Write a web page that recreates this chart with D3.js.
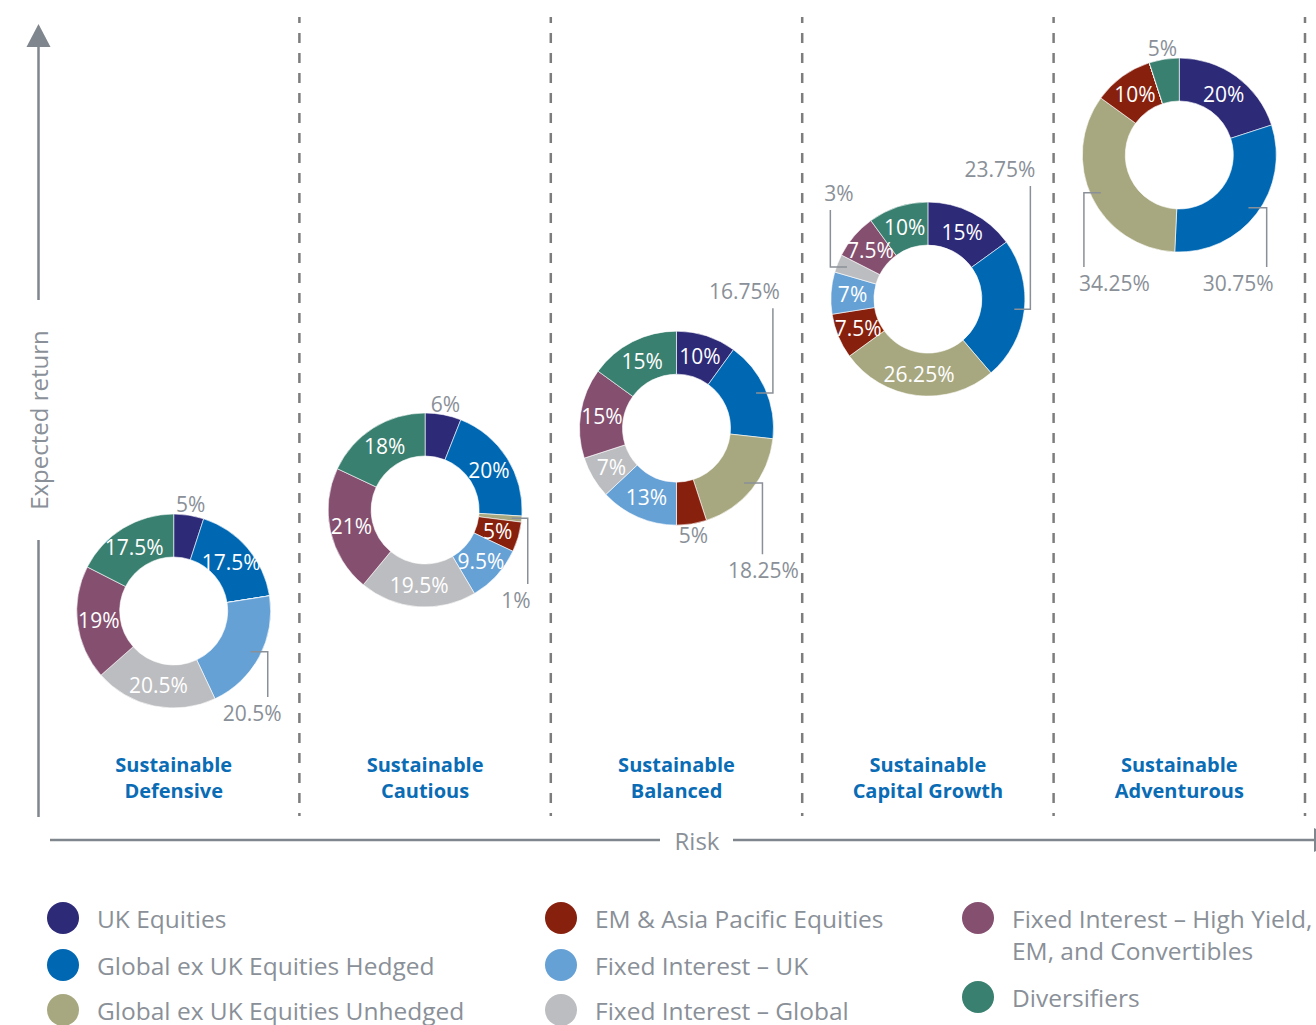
<!DOCTYPE html>
<html><head><meta charset="utf-8">
<script src="https://cdn.jsdelivr.net/npm/d3@7"></script>
<style>body{margin:0;background:#fff} svg{display:block}</style>
</head><body>
<svg id="c" width="1316" height="1025"></svg>
<script>
// ---------- DATA ----------
const portfolios = ["Sustainable Defensive","Sustainable Cautious","Sustainable Balanced","Sustainable Capital Growth","Sustainable Adventurous"];
const portfolioLines = [["Sustainable","Defensive"],["Sustainable","Cautious"],["Sustainable","Balanced"],["Sustainable","Capital Growth"],["Sustainable","Adventurous"]];
const categories = ["UK Equities","Global ex UK Equities Hedged","Global ex UK Equities Unhedged","EM & Asia Pacific Equities","Fixed Interest – UK","Fixed Interest – Global","Fixed Interest – High Yield, EM, and Convertibles","Diversifiers"];
const defensive     = [5, 17.5, 0, 0, 20.5, 20.5, 19, 17.5];
const cautious      = [6, 20, 1, 5, 9.5, 19.5, 21, 18];
const balanced      = [10, 16.75, 18.25, 5, 13, 7, 15, 15];
const capitalGrowth = [15, 23.75, 26.25, 7.5, 7, 3, 7.5, 10];
const adventurous   = [20, 30.75, 34.25, 10, 0, 0, 0, 5];
const allocations = [defensive, cautious, balanced, capitalGrowth, adventurous];
// relative expected return (qualitative ordering, 0 = lowest, 1 = highest)
const returnLevel = [0, 0.2215, 0.401, 0.684, 1];

// ---------- STYLE / LAYOUT ----------
const colors = ["#2d2a78","#0068b3","#a8a880","#88200e","#66a1d6","#bcbdc0","#854f70","#3a8070"];
const gray = "#8a9098";
const font = "'Open Sans', 'Noto Sans', sans-serif";
const RO = 97, RI = 54;
const LABEL_SIZE = 21;
// label placement: default inside; "out" = just outside; "leader" = with elbow line
const labelLayout = [
  {0:{mode:"out"}, 4:{mode:"leader", dy:110, anchor:"end", dx:14}},
  {0:{mode:"out"}, 2:{mode:"leader", dy:98, anchor:"end", dx:3}},
  {3:{mode:"out"}, 1:{mode:"leader", dy:-129, anchor:"end", dx:7}, 2:{mode:"leader", dy:150, anchor:"middle", dx:1}},
  {1:{mode:"leader", dy:-122, anchor:"end", dx:5}, 5:{mode:"leader", dy:-98, anchor:"start", dx:-6}},
  {7:{mode:"out"}, 1:{mode:"leader", dy:136, anchor:"end", dx:7}, 2:{mode:"leader", dy:136, anchor:"start", dx:-5}}
];

const svg = d3.select("#c");
const x = d3.scaleBand().domain(portfolios).range([48, 1305]).paddingInner(0).paddingOuter(0);
const y = d3.scaleLinear().domain([0, 1]).range([611, 155]);

// dashed dividers
svg.append("g").selectAll("line").data(portfolios).join("line")
  .attr("x1", d => x(d) + x.bandwidth()).attr("x2", d => x(d) + x.bandwidth())
  .attr("y1", 17).attr("y2", 816)
  .attr("stroke", "#7d7d7d").attr("stroke-width", 2.5)
  .attr("stroke-dasharray", "10,10").attr("stroke-dashoffset", 4);

// axes
const ax = svg.append("g").attr("stroke", "#7f868e").attr("stroke-width", 2.5);
ax.append("line").attr("x1", 38.5).attr("x2", 38.5).attr("y1", 44).attr("y2", 300);
ax.append("line").attr("x1", 38.5).attr("x2", 38.5).attr("y1", 540).attr("y2", 817);
svg.append("path").attr("d", "M38.5,24 L26.5,47 L50.5,47 Z").attr("fill", "#7f868e");
ax.append("line").attr("x1", 50).attr("x2", 660).attr("y1", 840).attr("y2", 840);
ax.append("line").attr("x1", 733).attr("x2", 1316).attr("y1", 840).attr("y2", 840);
svg.append("path").attr("d", "M1314,828 L1314,852 L1338,840 Z").attr("fill", "#7f868e");
svg.append("text").attr("transform", "translate(38,420) rotate(-90)")
  .attr("text-anchor", "middle").attr("dominant-baseline", "central")
  .attr("font-family", font).attr("font-size", 24).attr("fill", gray).text("Expected return");
svg.append("text").attr("x", 697).attr("y", 840).attr("text-anchor", "middle").attr("dominant-baseline", "central")
  .attr("font-family", font).attr("font-size", 24).attr("fill", gray).text("Risk");

// portfolio names
portfolios.forEach((p, i) => {
  const t = svg.append("text").attr("text-anchor", "middle").attr("font-family", font)
    .attr("font-weight", 700).attr("font-size", 20).attr("fill", "#0a6cb5");
  portfolioLines[i].forEach((ln, j) => {
    t.append("tspan").attr("x", x(p) + x.bandwidth() / 2).attr("y", 772 + j * 26).text(ln);
  });
});

// donuts
const pie = d3.pie().sort(null).value(d => d);
const arc = d3.arc().innerRadius(RI).outerRadius(RO);
const fmt = v => v + "%";

allocations.forEach((vals, pi) => {
  const cx = x(portfolios[pi]) + x.bandwidth() / 2;
  const cy = y(returnLevel[pi]);
  const g = svg.append("g").attr("transform", `translate(${cx},${cy})`);
  const arcs = pie(vals);
  g.selectAll("path").data(arcs).join("path")
    .attr("d", arc).attr("fill", (d, i) => colors[i])
    .attr("stroke", "#fff").attr("stroke-width", 0.6);

  arcs.forEach((a, i) => {
    if (a.data <= 0) return;
    const L = labelLayout[pi][i] || {mode: "in"};
    const mid = (a.startAngle + a.endAngle) / 2;
    if (L.mode === "in") {
      const [lx, ly] = arc.centroid(a);
      g.append("text").attr("x", lx).attr("y", ly).attr("text-anchor", "middle")
        .attr("dominant-baseline", "central").attr("font-family", font).attr("font-size", LABEL_SIZE)
        .attr("fill", "#fff").text(fmt(a.data));
    } else if (L.mode === "out") {
      const r = RO + 11;
      g.append("text").attr("x", r * Math.sin(mid)).attr("y", -r * Math.cos(mid))
        .attr("text-anchor", "middle").attr("dominant-baseline", "central")
        .attr("font-family", font).attr("font-size", LABEL_SIZE).attr("fill", gray).text(fmt(a.data));
    } else {
      const rs = RO - 10;
      const sx = rs * Math.sin(mid), sy = -rs * Math.cos(mid);
      const side = sx >= 0 ? 1 : -1;
      const lx = side * (Math.sqrt(Math.max(0, RO * RO - sy * sy)) + 6);
      const endY = L.dy > 0 ? L.dy - 24 : L.dy + 9;
      g.append("path").attr("d", `M${sx},${sy} H${lx} V${endY}`)
        .attr("fill", "none").attr("stroke", gray).attr("stroke-width", 1.5);
      g.append("text").attr("x", lx + L.dx).attr("y", L.dy).attr("text-anchor", L.anchor)
        .attr("font-family", font).attr("font-size", LABEL_SIZE).attr("fill", gray).text(fmt(a.data));
    }
  });
});

// legend
const legendCols = [
  {cx: 63, tx: 97, items: [[0, [918], ["UK Equities"]], [1, [965], ["Global ex UK Equities Hedged"]], [2, [1010], ["Global ex UK Equities Unhedged"]]]},
  {cx: 561, tx: 595, items: [[3, [918], ["EM & Asia Pacific Equities"]], [4, [965], ["Fixed Interest – UK"]], [5, [1010], ["Fixed Interest – Global"]]]},
  {cx: 978, tx: 1012, items: [[6, [918, 950], ["Fixed Interest – High Yield,", "EM, and Convertibles"]], [7, [997], ["Diversifiers"]]]}
];
const lg = svg.append("g");
legendCols.forEach(col => {
  col.items.forEach(([ci, ys, lines]) => {
    lg.append("circle").attr("cx", col.cx).attr("cy", ys[0]).attr("r", 16).attr("fill", colors[ci]);
    lines.forEach((ln, j) => {
      lg.append("text").attr("x", col.tx).attr("y", ys[j]).attr("dominant-baseline", "central")
        .attr("font-family", font).attr("font-size", 24.5).attr("fill", gray).text(ln);
    });
  });
});
</script>
</body></html>
